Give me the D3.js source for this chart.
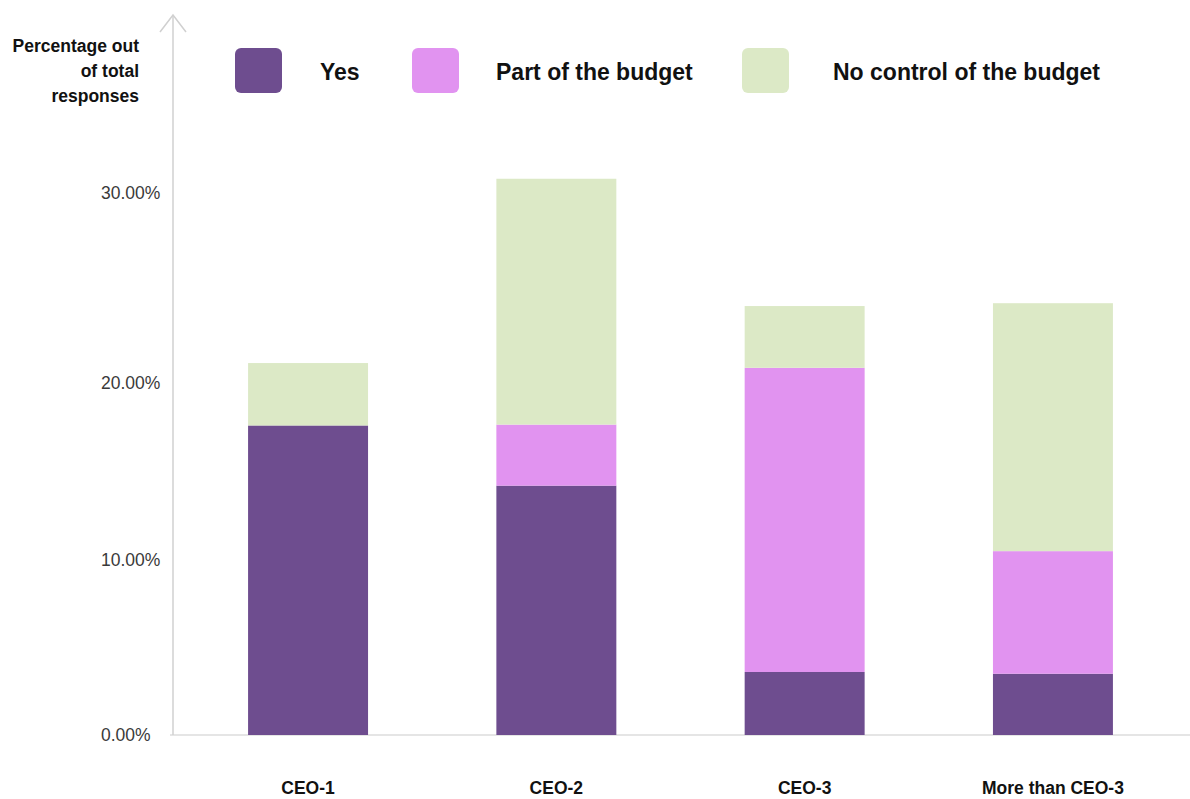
<!DOCTYPE html>
<html>
<head>
<meta charset="utf-8">
<script src="https://cdn.jsdelivr.net/npm/d3@7"></script>
<style>
  html, body { margin: 0; padding: 0; background: #fff; }
  svg { display: block; font-family: "Liberation Sans", Arial, Helvetica, sans-serif; }
</style>
</head>
<body>
<svg id="chart" width="1190" height="799"></svg>
<script>
// Budget control by level, share of all responses (%)
const categories = ["CEO-1", "CEO-2", "CEO-3", "More than CEO-3"];
const yesValues = [17.6, 14.2, 3.6, 3.5];
const partValues = [0, 3.45, 17.2, 7.0];
const noControlValues = [3.45, 13.1, 3.25, 13.7];
const seriesNames = ["Yes", "Part of the budget", "No control of the budget"];
const seriesKeys = ["yes", "part", "none"];
const tickValues = [0, 10, 20, 30];
const tickLabels = ["0.00%", "10.00%", "20.00%", "30.00%"];
const axisTitleLines = ["Percentage out", "of total", "responses"];

const colors = { yes: "#6e4d8f", part: "#e193f0", none: "#dce9c6" };

const svg = d3.select("#chart");

const rows = categories.map((c, i) => ({
  category: c, yes: yesValues[i], part: partValues[i], none: noControlValues[i]
}));
const stacked = d3.stack().keys(seriesKeys)(rows);

const x = d3.scaleBand()
  .domain(categories)
  .range([186, 1175])
  .paddingInner(0.5168)
  .paddingOuter(0.25);

// value axis, gridline positions as laid out on the page
const y = d3.scaleLinear()
  .domain(tickValues)
  .range([735, 560, 383, 193]);

// baseline
svg.append("line")
  .attr("x1", 170).attr("x2", 1190)
  .attr("y1", y(0)).attr("y2", y(0))
  .attr("stroke", "#dcdcdc").attr("stroke-width", 1.5);

// bars
svg.append("g").selectAll("g")
  .data(stacked)
  .join("g")
  .attr("fill", d => colors[d.key])
  .selectAll("rect")
  .data(d => d)
  .join("rect")
  .attr("x", d => x(d.data.category))
  .attr("width", x.bandwidth())
  .attr("y", d => y(d[1]))
  .attr("height", d => Math.max(0, y(d[0]) - y(d[1])));

// vertical axis with arrow
const axisX = 173;
svg.append("line")
  .attr("x1", axisX).attr("x2", axisX)
  .attr("y1", 15).attr("y2", y(0))
  .attr("stroke", "#d0d0d0").attr("stroke-width", 1.5);
svg.append("path")
  .attr("d", `M${axisX - 13},${32} L${axisX},${15} L${axisX + 13},${32}`)
  .attr("fill", "none").attr("stroke", "#d0d0d0").attr("stroke-width", 1.5);

// tick labels
svg.append("g").selectAll("text")
  .data(tickValues)
  .join("text")
  .attr("x", 101)
  .attr("y", d => y(d) + 6)
  .attr("font-size", 17.5)
  .attr("fill", "#3a3a3a")
  .text((d, i) => tickLabels[i]);

// axis title
svg.append("g").selectAll("text")
  .data(axisTitleLines)
  .join("text")
  .attr("x", 139)
  .attr("y", (d, i) => 52 + i * 25)
  .attr("text-anchor", "end")
  .attr("font-size", 17.5)
  .attr("font-weight", "bold")
  .attr("fill", "#111")
  .text(d => d);

// category labels
svg.append("g").selectAll("text")
  .data(categories)
  .join("text")
  .attr("x", d => x(d) + x.bandwidth() / 2)
  .attr("y", 794)
  .attr("text-anchor", "middle")
  .attr("font-size", 17.5)
  .attr("font-weight", "bold")
  .attr("fill", "#111")
  .text(d => d);

// legend
const legendSwatchX = [235, 412, 742];
const legendTextX = [320, 496, 833];
const legend = svg.append("g").selectAll("g")
  .data(seriesKeys)
  .join("g");
legend.append("rect")
  .attr("x", (d, i) => legendSwatchX[i])
  .attr("y", 48)
  .attr("width", 47).attr("height", 45)
  .attr("rx", 6)
  .attr("fill", d => colors[d]);
legend.append("text")
  .attr("x", (d, i) => legendTextX[i])
  .attr("y", 80)
  .attr("font-size", 23)
  .attr("font-weight", "bold")
  .attr("fill", "#111")
  .text((d, i) => seriesNames[i]);
</script>
</body>
</html>
